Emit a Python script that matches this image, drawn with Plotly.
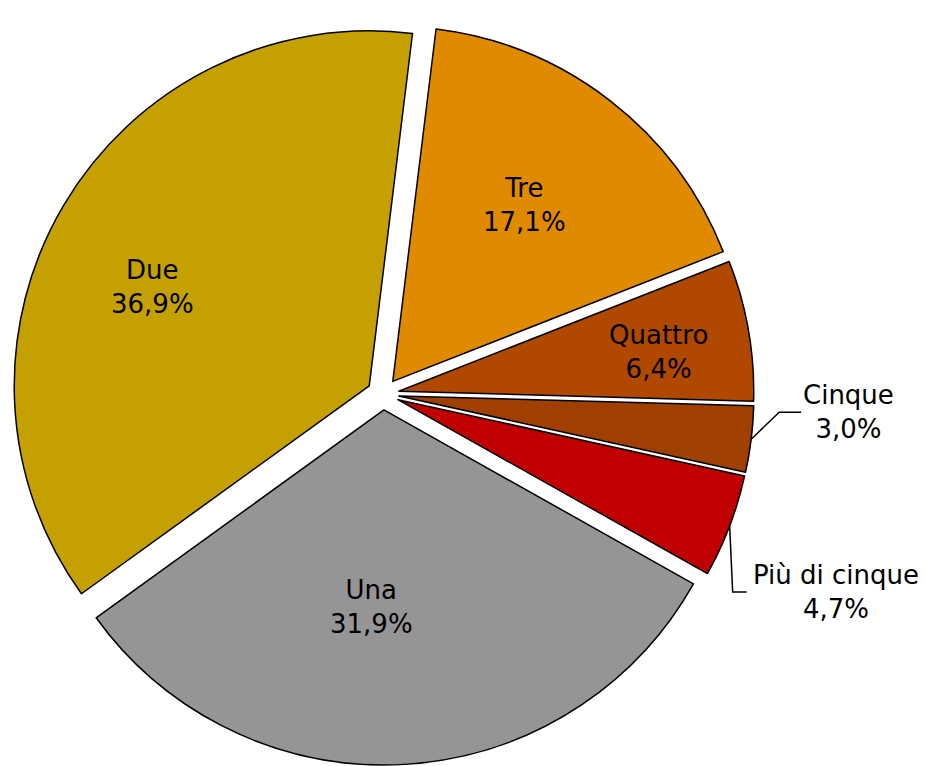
import math
import plotly.graph_objects as go

# Share by number of ... (values in %)
labels = ["Tre", "Quattro", "Cinque", "Più di cinque", "Una", "Due"]
values = [17.1, 6.4, 3.0, 4.7, 31.9, 36.9]
colors = ["#E08A00", "#B04800", "#A04000", "#C00000", "#959595", "#C4A000"]

W, H = 926, 766
PAGE_OFF = 8                   # default body margin of the html page
CX, CY, R = 383, 394, 355      # pie centre and radius, screen pixels
PULL = 0.045
ROTATION = 7
FONT = dict(family="DejaVu Sans", size=26, color="black")

# inside labels: (radial fraction, angle offset in degrees)
inside_pos = {"Tre": (0.62, -1), "Quattro": (0.74, 1.3), "Una": (0.556, 6.8), "Due": (0.67, -6)}
# outside labels: offset of label centre from the slice edge, and leader elbow geometry
outside_pos = {"Cinque": (97, -27, 47, 22), "Più di cinque": (106, 66, 89, 14)}


def px(x, y):
    return (x - PAGE_OFF) / W, 1 - (y - PAGE_OFF) / H


D = 2 * R * (1 + PULL)
x0, y1 = px(CX - D / 2, CY - D / 2)
x1, y0 = px(CX + D / 2, CY + D / 2)

fig = go.Figure()
fig.add_trace(go.Pie(
    labels=labels,
    values=values,
    sort=False,
    direction="clockwise",
    rotation=ROTATION,
    pull=PULL,
    marker=dict(colors=colors, line=dict(color="black", width=1.5)),
    textinfo="none",
    showlegend=False,
    hoverinfo="label+percent",
    domain=dict(x=[max(0, x0), min(1, x1)], y=[max(0, y0), min(1, y1)]),
))

total = sum(values)
cum = 0
for lab, v in zip(labels, values):
    mid_deg = ROTATION + (cum + v / 2) / total * 360
    cum += v
    mid = math.radians(mid_deg)
    ox = CX + PULL * R * math.sin(mid)
    oy = CY - PULL * R * math.cos(mid)
    txt = f"{lab}<br>{v / total * 100:.1f}%".replace(".", ",")
    if lab in outside_pos:
        dx, dy, back, arm = outside_pos[lab]
        tx, ty = ox + R * math.sin(mid), oy - R * math.cos(mid)
        lx, ly = tx + dx, ty + dy
        ex = lx - back
        kx = ex - arm
        p0, p1, p2 = px(tx, ty), px(kx, ly), px(ex, ly)
        fig.add_shape(type="path", xref="paper", yref="paper",
                      path=f"M {p0[0]} {p0[1]} L {p1[0]} {p1[1]} L {p2[0]} {p2[1]}",
                      line=dict(color="black", width=1.5))
    else:
        frac, dang = inside_pos[lab]
        a = math.radians(mid_deg + dang)
        lx, ly = ox + frac * R * math.sin(a), oy - frac * R * math.cos(a)
    ax_, ay_ = px(lx, ly)
    fig.add_annotation(x=ax_, y=ay_, xref="paper", yref="paper",
                       xanchor="center", yanchor="middle",
                       text=txt, showarrow=False, font=FONT)

fig.update_layout(
    width=W,
    height=H,
    margin=dict(l=0, r=0, t=0, b=0),
    paper_bgcolor="white",
    font=dict(family="DejaVu Sans", color="black"),
)

fig.write_html("out.html")
